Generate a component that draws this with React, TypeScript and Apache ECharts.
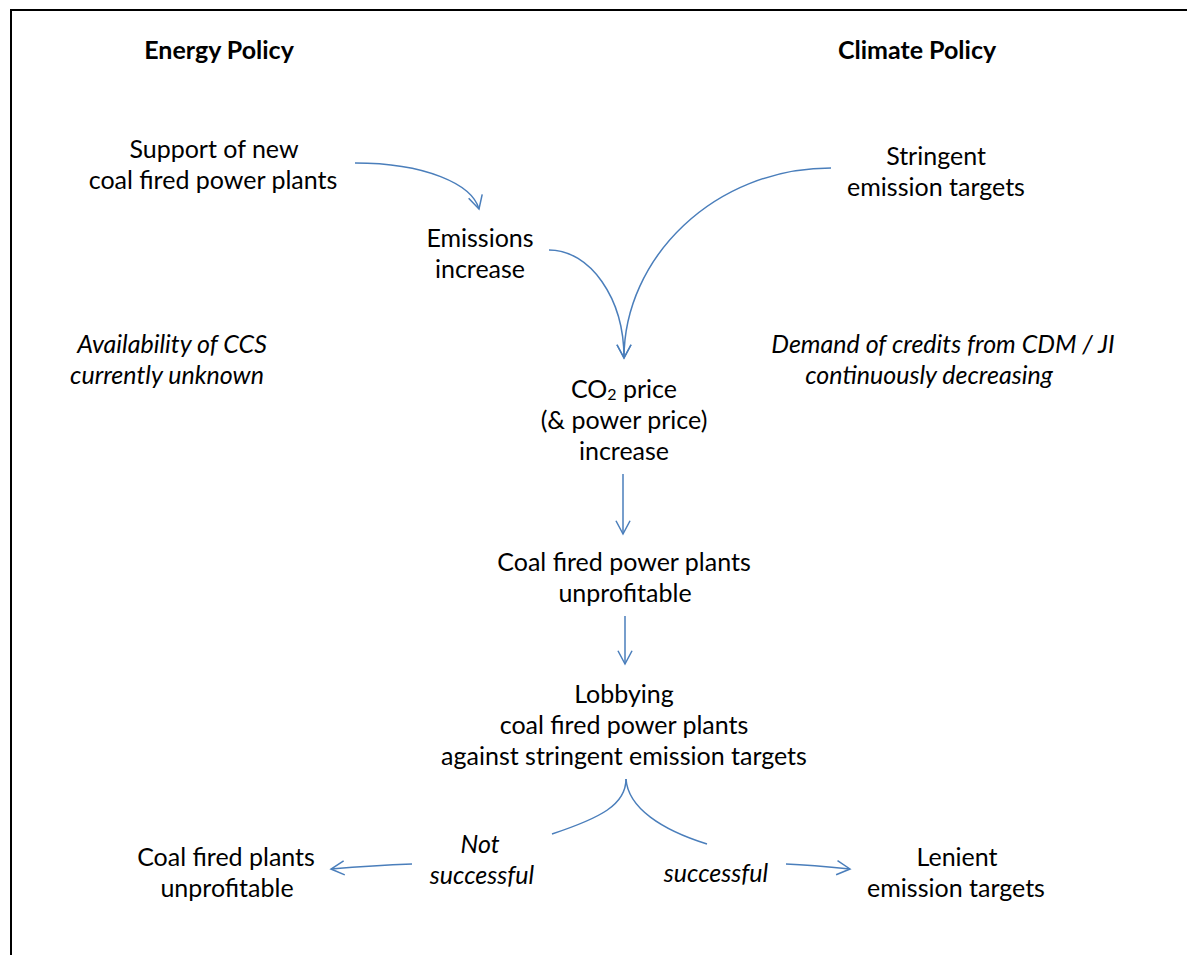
import React, { useEffect, useRef } from "react";
import * as echarts from "echarts";

// ---- Text content ----
const headers = ["Energy Policy", "Climate Policy"];
const nodeLabels = [
  ["Support of new", "coal fired power plants"],
  ["Stringent", "emission targets"],
  ["Emissions", "increase"],
  ["CO{s|2} price", "(& power price)", "increase"],
  ["Coal fired power plants", "unprofitable"],
  ["Lobbying", "coal fired power plants", "against stringent emission targets"],
  ["Coal fired plants", "unprofitable"],
  ["Lenient", "emission targets"],
];
const italicLabels = [
  ["Availability of CCS", "currently unknown"],
  ["Demand of credits from CDM / JI", "continuously decreasing"],
  ["Not", "successful"],
  ["successful"],
];

// ---- Layout (positions kept separate from content) ----
const headerPos = [
  [219, 49],
  [917, 49],
];
// per line centre x, first line y
const nodePos = [
  { xs: [214, 213], y: 148 },
  { xs: [936, 936], y: 155 },
  { xs: [480, 480], y: 237 },
  { xs: [624, 624, 624], y: 388 },
  { xs: [624, 625], y: 561 },
  { xs: [624, 624, 624], y: 693 },
  { xs: [226, 227], y: 856 },
  { xs: [957, 956], y: 856 },
];
const italicPos = [
  { xs: [172, 167], y: 343 },
  { xs: [943, 929], y: 343 },
  { xs: [480, 482], y: 843 },
  { xs: [716], y: 872 },
];
const LINE_GAP = 31;

// curves: [x1, y1, cpx1, cpy1, cpx2, cpy2, x2, y2, arrow]
const curves: number[][] = [
  [355, 163, 425, 163, 472, 184, 479, 209, 1],
  [549, 250, 590, 250, 624, 298, 624, 358, 1],
  [831, 168, 714, 168, 624, 258, 624, 358, 1],
  [623, 474, 623, 494, 623, 514, 623, 534, 1],
  [625, 616, 625, 632, 625, 648, 625, 664, 1],
  [626, 779, 626, 805, 600, 818, 552, 834, 0],
  [626, 779, 628, 808, 662, 830, 707, 844, 0],
  [412, 864, 385, 865, 355, 867, 331, 869, 1],
  [786, 864, 808, 865, 830, 867, 850, 869, 1],
];

const BLUE = "#4a7ebb";
const FONT = "Lato, 'Open Sans', sans-serif";
const FS = 25;

function arrowHead(tipX: number, tipY: number, fromX: number, fromY: number) {
  const dx = tipX - fromX;
  const dy = tipY - fromY;
  const len = Math.hypot(dx, dy) || 1;
  const ux = dx / len;
  const uy = dy / len;
  const L = 15;
  const a = (28 * Math.PI) / 180;
  const rot = (ang: number) => {
    const c = Math.cos(ang);
    const s = Math.sin(ang);
    const rx = ux * c - uy * s;
    const ry = ux * s + uy * c;
    return [tipX - rx * L, tipY - ry * L];
  };
  return [rot(a), [tipX, tipY], rot(-a)];
}

export default function App() {
  const ref = useRef<HTMLDivElement>(null);
  useEffect(() => {
    if (!ref.current) return;
    const chart = echarts.init(ref.current, null, { renderer: "svg" });
    const els: any[] = [];

    // frame
    els.push({
      type: "line",
      shape: { x1: 10, y1: 10, x2: 1187, y2: 10 },
      style: { stroke: "#000", lineWidth: 2 },
    });
    els.push({
      type: "line",
      shape: { x1: 11, y1: 10, x2: 11, y2: 955 },
      style: { stroke: "#000", lineWidth: 2 },
    });

    const txt = (t: string, x: number, y: number, extra: any = {}) => ({
      type: "text",
      x,
      y,
      style: {
        text: t,
        fill: "#000",
        fontSize: FS,
        fontFamily: FONT,
        align: "center",
        verticalAlign: "middle",
        ...extra,
      },
    });

    headers.forEach((h, i) => {
      els.push(txt(h, headerPos[i][0], headerPos[i][1], { fontWeight: "bold" }));
    });

    nodeLabels.forEach((lines, i) => {
      const p = nodePos[i];
      lines.forEach((l, j) => {
        const extra: any = {};
        if (l.indexOf("{s|") >= 0) {
          extra.rich = {
            s: {
              fontSize: 16,
              fontFamily: FONT,
              fill: "#000",
              verticalAlign: "bottom",
              padding: [11, 0, 0, 0],
            },
          };
        }
        els.push(txt(l, p.xs[j], p.y + j * LINE_GAP, extra));
      });
    });

    italicLabels.forEach((lines, i) => {
      const p = italicPos[i];
      lines.forEach((l, j) => {
        els.push(txt(l, p.xs[j], p.y + j * LINE_GAP, { fontStyle: "italic" }));
      });
    });

    curves.forEach((c) => {
      els.push({
        type: "bezierCurve",
        shape: { x1: c[0], y1: c[1], cpx1: c[2], cpy1: c[3], cpx2: c[4], cpy2: c[5], x2: c[6], y2: c[7] },
        style: { stroke: BLUE, lineWidth: 1.5, fill: null },
      });
      if (c[8]) {
        els.push({
          type: "polyline",
          shape: { points: arrowHead(c[6], c[7], c[4], c[5]) },
          style: { stroke: BLUE, lineWidth: 1.5, fill: null },
        });
      }
    });

    chart.setOption({
      animation: false,
      backgroundColor: "#fff",
      graphic: { elements: els },
    });
    return () => chart.dispose();
  }, []);
  return (
    <div
      ref={ref}
      style={{ position: "absolute", left: 0, top: 0, width: 1187, height: 955, background: "#fff" }}
    />
  );
}
